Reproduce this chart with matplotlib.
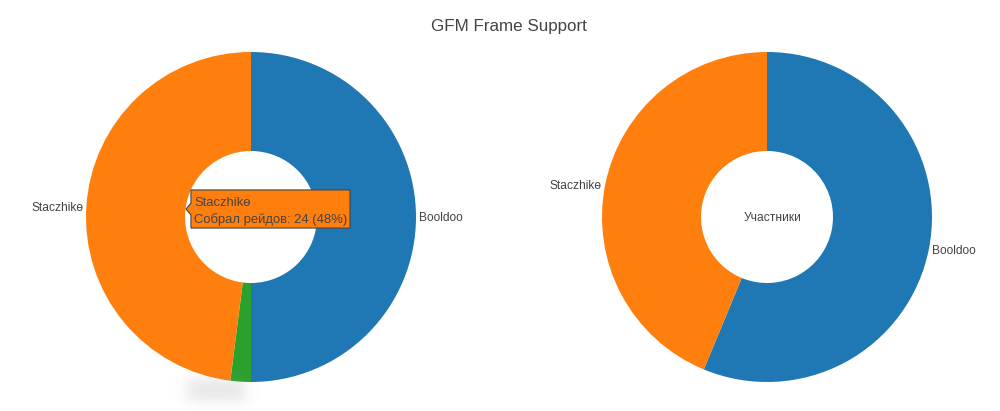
import numpy as np
import matplotlib
matplotlib.use("Agg")
import matplotlib.pyplot as plt
from matplotlib.patches import Polygon

plt.rcParams['font.family'] = ['Liberation Sans', 'DejaVu Sans']

# ---- data ----
left_labels = ["Booldoo", "", "Staczhikө"]
left_values = [25, 1, 24]
left_colors = ["#1f77b4", "#2ca02c", "#ff7f0e"]

right_labels = ["Booldoo", "Staczhikө"]
right_values = [9, 7]
right_colors = ["#1f77b4", "#ff7f0e"]
right_center_text = "Участники"

title = "GFM Frame Support"
hover_name = "Staczhikө"
hover_metric = "Собрал рейдов"
hover_index = 2

TXT = "#444444"
W, H = 1000, 411
fig = plt.figure(figsize=(10, 4.11), dpi=100)

def ax_at(cx, cy, r):
    return fig.add_axes([(cx - r) / W, (H - cy - r) / H, 2 * r / W, 2 * r / H])

axL = ax_at(251, 217, 165)
axR = ax_at(767, 217, 165)

for ax, vals, labs, cols in [(axL, left_values, left_labels, left_colors),
                             (axR, right_values, right_labels, right_colors)]:
    wedges, texts = ax.pie(vals, labels=labs, colors=cols, startangle=90,
                           counterclock=False, radius=1.0, labeldistance=1.02,
                           wedgeprops=dict(width=0.6, linewidth=0),
                           textprops=dict(color=TXT, fontsize=8.64))
    for t in texts:
        x, y = t.get_position()
        t.set_position((x, y - 0.009))
    ax.set_xlim(-1, 1)
    ax.set_ylim(-1, 1)
    ax.set_aspect('equal')
    ax.axis('off')

axR.text(0.036, -0.008, right_center_text, ha='center', va='center', color=TXT, fontsize=8.64)

fig.text(0.509, 1 - 27 / H, title, ha='center', va='center', color=TXT, fontsize=12.24)

# hover tooltip on left chart
total = sum(left_values)
val = left_values[hover_index]
pct = round(100 * val / total)
px, py = -0.394, 0.048
bx0, bx1 = -0.364, 0.600
by0, by1 = -0.067, 0.164
axL.add_patch(Polygon([[bx0, by0], [bx1, by0], [bx1, by1], [bx0, by1],
                       [bx0, py + 0.036], [px, py], [bx0, py - 0.036]],
                      closed=True, facecolor=left_colors[hover_index],
                      edgecolor=TXT, linewidth=0.8, zorder=5, clip_on=False))
axL.text(-0.345, 0.086, hover_name, ha='left', va='center', color=TXT, fontsize=9.36, zorder=6)
axL.text(-0.345, -0.017, f"{hover_metric}: {val} ({pct}%)", ha='left', va='center',
         color=TXT, fontsize=9.36, zorder=6)

# faint blurred shadow below the small slice
yy, xx = np.mgrid[0:40, 0:90]
def soft(a, lo, hi, s):
    return 1 / (1 + np.exp(-(a - lo) / s)) * (1 - 1 / (1 + np.exp(-(a - hi) / s)))
img = soft(xx, 14, 72, 4) * soft(yy, 9, 31, 3)
shadow = np.zeros((40, 90, 4))
shadow[..., :3] = 0.6
shadow[..., 3] = img * 0.22
axs = fig.add_axes([173 / W, (H - 410) / H, 90 / W, 40 / H])
axs.imshow(shadow, aspect='auto', interpolation='bilinear')
axs.axis('off')

fig.savefig("out.png", dpi=100)
